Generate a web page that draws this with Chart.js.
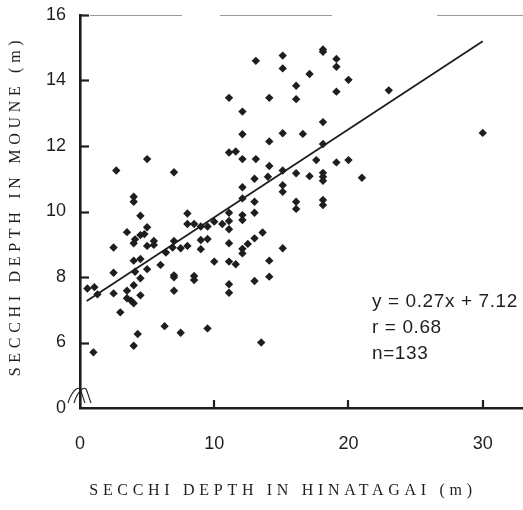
<!DOCTYPE html>
<html>
<head>
<meta charset="utf-8">
<script src="https://cdn.jsdelivr.net/npm/chart.js@4"></script>
<style>
  html, body { margin: 0; padding: 0; background: #fff; }
  canvas { display: block; }
</style>
</head>
<body>
<canvas id="chart" width="523" height="510"></canvas>
<script>
// Secchi depth: Hinatagai (x) vs Moune (y), metres
const hinatagai = [
  2.7, 5.0, 7.0, 4.0, 4.0, 4.5, 3.5, 5.0, 4.8, 4.5,
  4.1, 4.0, 5.0, 5.5, 5.5, 2.5, 7.0, 6.9, 6.4, 4.0,
  4.5, 6.0, 5.0, 4.1, 2.5, 7.0, 7.0, 4.5, 0.55, 1.07,
  1.3, 4.0, 2.5, 4.5, 3.5, 3.5, 3.8, 4.0, 7.0, 3.0,
  6.3, 4.3, 7.5, 4.0, 1.0, 13.0, 14.0, 15.1, 16.1, 17.1,
  18.1, 18.1, 18.1, 12.1, 15.1, 15.1, 12.1, 13.0, 16.1, 16.1,
  18.1, 18.1, 8.0, 11.1, 13.0, 12.1, 12.1, 8.0, 8.5, 9.0,
  9.5, 10.0, 10.6, 11.1, 11.1, 7.5, 8.0, 9.0, 9.5, 9.0,
  11.1, 13.6, 13.0, 12.5, 12.1, 12.1, 15.1, 10.0, 11.1, 11.6,
  14.1, 8.5, 8.5, 11.1, 11.1, 13.0, 14.1, 9.5, 13.5, 11.1,
  11.6, 12.1, 13.1, 14.1, 17.6, 19.1, 20.0, 12.1, 14.1, 15.1,
  16.6, 18.1, 18.1, 11.1, 12.1, 14.1, 16.1, 16.1, 17.1, 19.1,
  20.0, 13.1, 15.1, 15.1, 18.1, 18.1, 19.1, 19.1, 23.0, 30.0,
  21.0
];
const moune = [
  11.25, 11.6, 11.2, 10.45, 10.3, 9.87, 9.37, 9.52, 9.31, 9.28,
  9.15, 9.03, 8.95, 9.1, 8.98, 8.9, 9.1, 8.9, 8.75, 8.5,
  8.55, 8.37, 8.24, 8.16, 8.13, 8.05, 7.99, 7.96, 7.65, 7.69,
  7.47, 7.75, 7.5, 7.44, 7.58, 7.35, 7.28, 7.2, 7.58, 6.92,
  6.5, 6.26, 6.3, 5.9, 5.7, 11.0, 11.06, 11.25, 11.17, 11.08,
  11.18, 11.06, 10.94, 10.74, 10.8, 10.6, 10.4, 10.3, 10.3, 10.08,
  10.35, 10.2, 9.94, 9.96, 9.96, 9.89, 9.74, 9.62, 9.62, 9.54,
  9.54, 9.69, 9.62, 9.71, 9.46, 8.88, 8.95, 9.13, 9.16, 8.85,
  9.03, 9.36, 9.18, 9.01, 8.86, 8.72, 8.88, 8.47, 8.47, 8.39,
  8.5, 8.03, 7.91, 7.78, 7.52, 7.88, 8.01, 6.43, 6.0, 11.8,
  11.83, 11.6, 11.6, 11.39, 11.57, 11.5, 11.57, 12.36, 12.14, 12.39,
  12.37, 12.73, 12.06, 13.47, 13.05, 13.47, 13.84, 13.43, 14.2, 13.66,
  14.02, 14.6, 14.76, 14.37, 14.95, 14.88, 14.66, 14.42, 13.7, 12.4,
  11.03
];

// fitted line as drawn, end points
const fitX = [0.5, 30];
const fitY = [7.27, 15.2];

const xTickValues = [0, 10, 20, 30];
const yTickValues = [4, 6, 8, 10, 12, 14, 16];   // bottom is a broken axis labelled 0
const yTickLabels = ['0', '6', '8', '10', '12', '14', '16'];

const statLines = ['y = 0.27x + 7.12', 'r = 0.68', 'n=133'];
const xTitle = 'SECCHI DEPTH IN HINATAGAI (m)';
const yTitle = 'SECCHI DEPTH IN MOUNE (m)';

const ink = '#1e1e1e';

const points = hinatagai.map((x, i) => ({ x: x, y: moune[i] }));
const fitLine = fitX.map((x, i) => ({ x: x, y: fitY[i] }));

// inward ticks, axis break, stats text, titles
const decorations = {
  id: 'decorations',
  afterDraw(chart) {
    const ctx = chart.ctx;
    const xs = chart.scales.x, ys = chart.scales.y;
    const area = chart.chartArea;
    ctx.save();

    ctx.strokeStyle = ink;
    ctx.lineWidth = 2.2;
    yTickValues.slice(1).forEach(v => {
      const py = Math.round(ys.getPixelForValue(v)) + 0.5;
      ctx.beginPath();
      ctx.moveTo(area.left, py);
      ctx.lineTo(area.left + 9, py);
      ctx.stroke();
    });
    xTickValues.slice(1).forEach(v => {
      const px = Math.round(xs.getPixelForValue(v));
      ctx.beginPath();
      ctx.moveTo(px, area.bottom);
      ctx.lineTo(px, area.bottom - 8);
      ctx.stroke();
    });

    // faint broken frame line along the top
    ctx.strokeStyle = '#9a9a9a';
    ctx.lineWidth = 1;
    [[90, 182], [220, 332], [437, 523]].forEach(s => {
      ctx.beginPath();
      ctx.moveTo(s[0], area.top + 0.5);
      ctx.lineTo(s[1], area.top + 0.5);
      ctx.stroke();
    });

    // axis break mark
    ctx.strokeStyle = ink;
    ctx.lineWidth = 1.1;
    [0, 6].forEach(d => {
      ctx.beginPath();
      ctx.moveTo(area.left - 12 + d, area.bottom - 5);
      ctx.bezierCurveTo(area.left - 9 + d, area.bottom - 15, area.left - 3 + d, area.bottom - 22,
                        area.left + d, area.bottom - 19);
      ctx.bezierCurveTo(area.left + 2 + d, area.bottom - 15, area.left + 3 + d, area.bottom - 10,
                        area.left + 5 + d, area.bottom - 5);
      ctx.stroke();
    });

    // regression stats
    ctx.fillStyle = ink;
    ctx.font = '19px "Liberation Sans", Arial, sans-serif';
    ctx.letterSpacing = '0.6px';
    ctx.textAlign = 'left';
    ctx.textBaseline = 'middle';
    [302, 328, 354].forEach((y, i) => ctx.fillText(statLines[i], 372, y));

    // axis titles, spaced serif capitals
    ctx.font = '16px "Liberation Serif", "Times New Roman", serif';
    ctx.letterSpacing = '4.7px';
    ctx.textAlign = 'center';
    ctx.fillText(xTitle, 283, 491);
    ctx.translate(16, 206);
    ctx.rotate(-Math.PI / 2);
    ctx.fillText(yTitle, 0, 0);
    ctx.restore();
  }
};

new Chart(document.getElementById('chart'), {
  type: 'scatter',
  data: {
    datasets: [
      {
        data: points,
        pointStyle: 'rectRot',
        pointRadius: 4.2,
        pointBackgroundColor: ink,
        pointBorderWidth: 0,
        showLine: false
      },
      {
        type: 'line',
        data: fitLine,
        borderColor: ink,
        borderWidth: 1.8,
        pointRadius: 0,
        fill: false
      }
    ]
  },
  options: {
    responsive: false,
    animation: false,
    events: [],
    layout: { autoPadding: false, padding: { top: 15, right: 0, left: 0, bottom: 0 } },
    plugins: { legend: { display: false }, tooltip: { enabled: false } },
    scales: {
      x: {
        type: 'linear',
        min: 0,
        max: 33,
        afterFit: s => { s.height = 102; s.paddingLeft = 0; s.paddingRight = 0; },
        afterBuildTicks: s => { s.ticks = xTickValues.map(v => ({ value: v })); },
        grid: { display: false, drawTicks: false, tickLength: 0 },
        border: { color: ink, width: 2.6 },
        ticks: {
          color: ink,
          padding: 25,
          maxRotation: 0,
          font: { family: '"Liberation Sans", Arial, sans-serif', size: 18 }
        }
      },
      y: {
        type: 'linear',
        min: 4,
        max: 16,
        afterFit: s => { s.width = 80; s.paddingTop = 0; s.paddingBottom = 0; },
        afterBuildTicks: s => { s.ticks = yTickValues.map(v => ({ value: v })); },
        grid: { display: false, drawTicks: false, tickLength: 0 },
        border: { color: ink, width: 2.6 },
        ticks: {
          color: ink,
          padding: 14,
          font: { family: '"Liberation Sans", Arial, sans-serif', size: 18 },
          callback: v => yTickLabels[yTickValues.indexOf(v)]
        }
      }
    }
  },
  plugins: [decorations]
});
</script>
</body>
</html>
